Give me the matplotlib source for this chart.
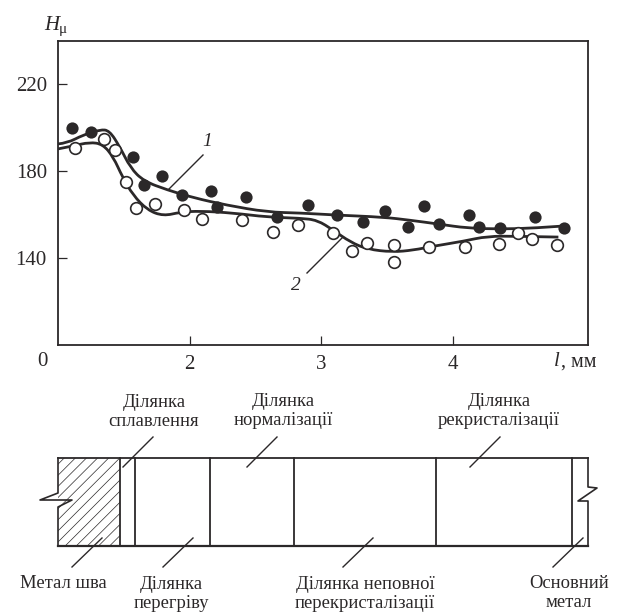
import matplotlib
matplotlib.use('Agg')
import matplotlib.pyplot as plt
from matplotlib.patches import PathPatch, Rectangle
from matplotlib.path import Path

plt.rcParams['font.family'] = ['Liberation Serif', 'DejaVu Serif']
plt.rcParams['hatch.linewidth'] = 0.5

INK = '#2b2829'
W, H = 617, 613

# measured points, l (mm) and H
filled_l = [1.11, 1.25, 1.57, 1.65, 1.79, 1.94, 2.16, 2.21, 2.43, 2.66, 2.90,
            3.12, 3.32, 3.48, 3.66, 3.78, 3.89, 4.12, 4.20, 4.36, 4.62, 4.84]
filled_h = [199.9, 198.1, 186.6, 173.7, 177.8, 169.0, 170.9, 163.5, 168.1, 158.9, 164.7,
            159.8, 156.6, 161.7, 154.3, 164.0, 155.7, 159.8, 154.3, 153.8, 158.9, 153.8]
open_l = [1.13, 1.35, 1.43, 1.52, 1.59, 1.74, 1.96, 2.09, 2.40, 2.63, 2.82,
          3.09, 3.23, 3.35, 3.55, 3.55, 3.82, 4.09, 4.35, 4.49, 4.60, 4.79]
open_h = [190.7, 194.9, 189.8, 175.0, 163.1, 164.9, 162.1, 158.0, 157.5, 152.0, 155.2,
          151.5, 143.2, 146.9, 146.0, 138.2, 145.1, 145.1, 146.5, 151.5, 148.8, 146.0]

# fitted curves
curve1_l = [1.00, 1.07, 1.19, 1.32, 1.39, 1.47, 1.55, 1.65, 1.83, 2.03, 2.28,
            2.59, 2.84, 3.12, 3.47, 3.67, 3.89, 4.11, 4.36, 4.61, 4.84]
curve1_h = [192.6, 193.0, 196.7, 199.2, 198.8, 191.2, 181.6, 175.5, 171.4, 167.8, 164.4,
            161.2, 160.8, 159.8, 158.9, 157.5, 155.7, 153.8, 153.4, 153.8, 154.8]
curve2_l = [1.00, 1.11, 1.24, 1.34, 1.42, 1.49, 1.57, 1.68, 1.80, 1.93, 2.08, 2.33,
            2.59, 2.84, 2.97, 3.09, 3.22, 3.35, 3.54, 3.70, 3.85, 4.08, 4.26, 4.49, 4.80]
curve2_h = [190.3, 191.6, 193.4, 192.5, 186.6, 177.3, 169.0, 162.1, 159.4, 161.2, 161.7, 160.8,
            158.9, 158.4, 157.5, 152.9, 147.4, 144.1, 142.8, 143.7, 145.5, 147.8, 150.1, 150.1, 149.7]

x_ticks = [2, 3, 4]
y_ticks = [140, 180, 220]

# zones of the weld, left edges in pixels of the sketch
zone_edges = [120, 135, 210, 294, 436, 572]
top_labels = [
    ('Ділянка\nсплавлення', 154, 412),
    ('Ділянка\nнормалізації', 283, 411),
    ('Ділянка\nрекристалізації', 499, 411),
]
bottom_labels = [
    ('Метал шва', 63, 583),
    ('Ділянка\nперегріву', 171, 594),
    ('Ділянка неповної\nперекристалізації', 365, 594),
    ('Основний\nметал', 569, 593),
]
leaders = [
    (203, 155, 168, 190), (307, 273, 342, 238),
    (153, 437, 123, 467), (277, 437, 247, 467), (500, 437, 470, 467),
    (102, 538, 72, 567), (193, 538, 163, 567), (373, 538, 343, 567), (583, 538, 553, 567),
]


def smooth(xs, ys):
    # quadratic segments between midpoints, the read points act as control points
    verts = [(xs[0], ys[0])]
    codes = [Path.MOVETO]
    for i in range(1, len(xs) - 1):
        if i < len(xs) - 2:
            end = ((xs[i] + xs[i + 1]) / 2, (ys[i] + ys[i + 1]) / 2)
        else:
            end = (xs[-1], ys[-1])
        verts += [(xs[i], ys[i]), end]
        codes += [Path.CURVE3, Path.CURVE3]
    return Path(verts, codes)


fig = plt.figure(figsize=(W / 100, H / 100), dpi=100)

# Chart

ax = fig.add_axes([58 / W, 1 - 345 / H, 530 / W, 304 / H])
ax.set_xlim(1.0, 5.025)
ax.set_ylim(100, 240)
for curve in ((curve1_l, curve1_h), (curve2_l, curve2_h)):
    ax.add_patch(PathPatch(smooth(*curve), fill=False, edgecolor=INK, linewidth=2.0,
                           capstyle='butt', zorder=2))
ax.plot(filled_l, filled_h, 'o', color=INK, markersize=8.8, markeredgewidth=0, zorder=3)
ax.plot(open_l, open_h, 'o', markerfacecolor='white', markeredgecolor=INK,
        markersize=8.4, markeredgewidth=1.2, zorder=4)
ax.set_xticks(x_ticks)
ax.set_yticks(y_ticks)
ax.tick_params(direction='in', length=6.5, width=0.9, color=INK, labelcolor=INK,
               labelsize=15)
ax.tick_params(axis='x', pad=7)
ax.tick_params(axis='y', pad=8)
for spine in ax.spines.values():
    spine.set_linewidth(1.3)
    spine.set_color(INK)

# Everything else is laid out in pixels on a full figure overlay

over = fig.add_axes([0, 0, 1, 1], facecolor='none')
over.set_xlim(0, W)
over.set_ylim(H, 0)
over.axis('off')

over.text(42, 362, '0', fontsize=15, color=INK, ha='center', va='center')
over.text(52, 26, 'H', fontsize=15, style='italic', color=INK, ha='center', va='center')
over.text(63, 30, 'μ', fontsize=11, color=INK, ha='center', va='center')
over.text(557, 362, 'l', fontsize=15, style='italic', color=INK, ha='center', va='center')
over.text(561, 362, ', мм', fontsize=14.5, color=INK, ha='left', va='center')
over.text(207, 141, '1', fontsize=14, style='italic', color=INK, ha='center', va='center')
over.text(296, 286, '2', fontsize=14, style='italic', color=INK, ha='center', va='center')

for x0, y0, x1, y1 in leaders:
    over.plot([x0, x1], [y0, y1], color=INK, linewidth=1.0)

# Weld sketch

over.add_patch(Rectangle((58, 458), 62, 88, facecolor='white', edgecolor=INK,
                         hatch='///', linewidth=0))
over.plot([58, 588], [458, 458], color=INK, linewidth=1.3)
over.plot([58, 588], [546, 546], color=INK, linewidth=1.6)
over.plot([58, 58, 40, 72, 58, 58], [458, 493, 500, 500, 507, 546], color=INK, linewidth=1.2)
over.plot([588, 588, 597, 578, 588, 588], [458, 487, 488, 501, 501, 546], color=INK, linewidth=1.2)
for edge in zone_edges:
    over.plot([edge, edge], [458, 546], color=INK, linewidth=1.3)

for text, x, y in top_labels + bottom_labels:
    over.text(x, y, text, fontsize=13.4, color=INK, ha='center', va='center', linespacing=1.13)

fig.savefig('out.png', dpi=100)
